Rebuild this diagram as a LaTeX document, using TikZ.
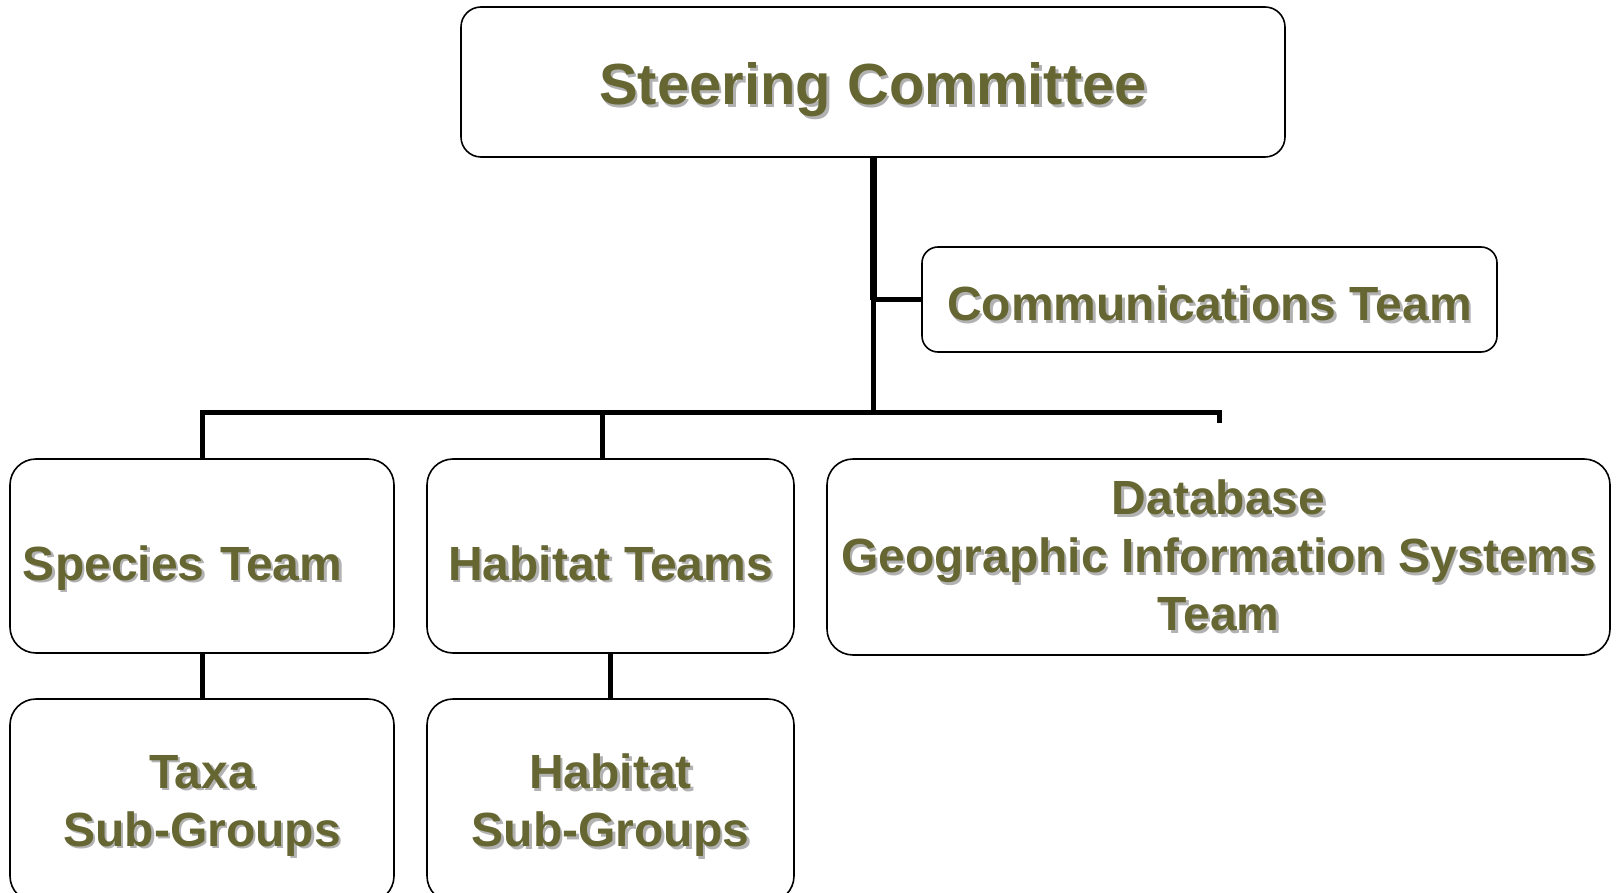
\documentclass[tikz,border=0pt]{standalone}
\usepackage{fontspec}
\setmainfont{Liberation Sans}
\definecolor{olivetext}{RGB}{102,102,51}
\definecolor{shadowgray}{RGB}{178,178,178}
\newcommand{\shtxt}[1]{\makebox[0pt][l]{\hspace{2.5pt}\raisebox{-2.5pt}{\textcolor{shadowgray}{#1}}}#1}

\begin{document}
\begin{tikzpicture}[x=1pt, y=-1pt,
    team/.style ={draw, line width=1.6pt, rounded corners=26pt, text=olivetext,
      font=\fontsize{48}{58}\selectfont\bfseries, align=center, inner sep=0pt},
    link/.style ={line width=5pt},
    trunk/.style ={line width=7pt}]
   \useasboundingbox (0,0) rectangle (1616,893);
   \clip (0,0) rectangle (1616,893);
   \node[team, minimum width=824pt, minimum height=150pt, rounded corners=20pt, text height=46pt, text depth=0pt,
     font=\fontsize{58}{64}\selectfont\bfseries] (SC) at (873,82) {\shtxt{Steering Committee}};
   \node[team, minimum width=575pt, minimum height=105pt, rounded corners=16pt, text height=42pt, text depth=0pt] (CT) at (1209.5,299.5) {\shtxt{Communications Team}};
   \node[team, minimum width=384pt, minimum height=194pt, text width=358pt, align=left, text height=48pt, text depth=0pt] (ST) at (202,556) {\shtxt{Species Team}};
   \node[team, minimum width=367pt, minimum height=194pt, text height=48pt, text depth=0pt] (HT) at (610.5,556) {\shtxt{Habitat Teams}};
   \node[team, minimum width=783pt, minimum height=196pt] (DB) at (1218.5,557) {\shtxt{Database}\\ \shtxt{Geographic Information Systems}\\ \shtxt{Team}};
   \node[team, minimum width=384pt, minimum height=203pt, text depth=0pt] (TS) at (202,800.5) {\shtxt{Taxa}\\ \shtxt{Sub-Groups}};
   \node[team, minimum width=367pt, minimum height=203pt, text depth=0pt] (HS) at (610.5,800.5) {\shtxt{Habitat}\\ \shtxt{Sub-Groups}};
   \coordinate (bar) at (873,412);
   \coordinate (dbend) at (1219,423);
   \draw[trunk] (SC.south) to (SC.south |- CT.west);
   \draw[link] (SC.south |- CT.west) to (CT.west);
   \draw[link] (SC.south |- CT.west) to (bar);
   \draw[link] (ST.north) |- (bar) -| (dbend);
   \draw[link] ([xshift=-8pt]HT.north) to ([xshift=-8pt]HT.north |- bar);
   \draw[link] (ST) to (TS);
   \draw[link] (HT) to (HS);
 \end{tikzpicture}
\end{document}
